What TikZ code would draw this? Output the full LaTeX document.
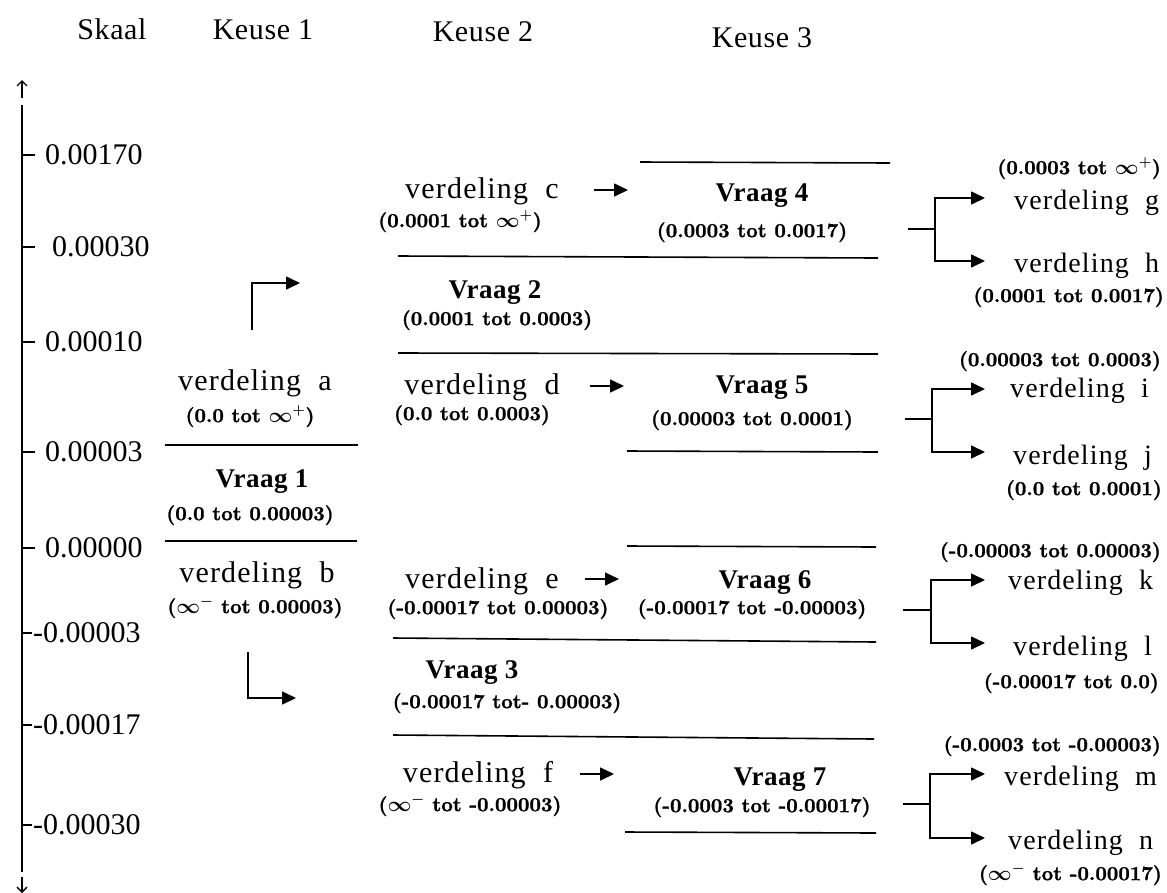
\documentclass[tikz,border=0pt]{standalone}
\usepackage{fontspec}
\usetikzlibrary{arrows.meta}
\newfontfamily\tnr[LetterSpace=4,WordSpace=2]{Liberation Serif}
\newfontfamily\tnrb[LetterSpace=2,WordSpace=1.5]{Liberation Serif}
\newfontfamily\tnrh[LetterSpace=2]{Liberation Serif}
\newfontfamily\tnrplain{Liberation Serif}
\newfontfamily\rngf[FakeBold=1.2]{lmroman10-bold.otf}
\begin{document}
\begin{tikzpicture}[x=1pt,y=-1pt,
  txt/.style={font=\tnr\fontsize{30}{34}\selectfont, inner sep=0pt, anchor=mid},
  vr/.style={font=\tnrb\bfseries\fontsize{27}{30}\selectfont, inner sep=0pt, anchor=mid},
  rng/.style={font=\rngf\boldmath\fontsize{20}{22}\selectfont, inner sep=0pt, anchor=mid},
  hdr/.style={font=\tnrh\fontsize{30}{34}\selectfont, inner sep=0pt, anchor=mid},
  scl/.style={font=\tnrplain\fontsize{30}{34}\selectfont, inner sep=0pt, anchor=west},
  vr3/.style={font=\tnr\fontsize{28}{32}\selectfont, inner sep=0pt, anchor=mid west},
  rr3/.style={rng, anchor=mid east},
  rule/.style={line width=1.6pt},
  tri/.style={line width=1.6pt, -{Triangle[length=14pt,width=13pt]}},
  barb/.style={line width=1.4pt, -{Straight Barb[length=5pt,width=10pt]}},
]
\useasboundingbox (0,0) rectangle (1167,892);

% headers
\node[hdr] (h0) at (112,37) {Skaal};
\node[hdr] (h1) at (263,37) {Keuse 1};
\node[hdr] (h2) at (483,39) {Keuse 2};
\node[hdr] (h3) at (762,45) {Keuse 3};

% scale axis
\coordinate (atop) at (22,105);
\coordinate (abot) at (22,872);
\draw[rule] (atop) -- (abot);
\coordinate (up1) at (22,98); \coordinate (up2) at (22,80);
\draw[barb] (up1) -- (up2);
\coordinate (dn1) at (22,877); \coordinate (dn2) at (22,893);
\draw[barb] (dn1) -- (dn2);

\foreach \y/\lab/\lx/\tx in {155/0.00170/45/35, 247/0.00030/52/35, 342/0.00010/45/35, 452/0.00003/45/35, 548/0.00000/45/35}{
  \coordinate (t\y) at (22,\y);
  \coordinate (te\y) at (\tx,\y);
  \draw[rule] (t\y) -- (te\y);
  \node[scl] (s\y) at (\lx,\y) {\lab};
}
\foreach \y/\lab in {633/-0.00003, 725/-0.00017, 825/-0.00030}{
  \coordinate (t\y) at (22,\y);
  \coordinate (te\y) at (32,\y);
  \draw[rule] (t\y) -- (te\y);
  \node[scl] (s\y) at (33,\y) {\lab};
}

% Keuse 1
\node[txt] (va) at (255,388) {verdeling a};
\node[rng] (ra) at (250,420) {(0.0 tot $\infty^{+}$)};
\coordinate (l1a) at (165,445); \coordinate (l1b) at (358,445);
\draw[rule] (l1a) -- (l1b);
\node[vr] (q1) at (262,485) {Vraag 1};
\node[rng] (r1) at (250,518) {(0.0 tot 0.00003)};
\coordinate (l2a) at (165,541); \coordinate (l2b) at (357,541);
\draw[rule] (l2a) -- (l2b);
\node[txt] (vb) at (257,580) {verdeling b};
\node[rng] (rb) at (255,611) {($\infty^{-}$ tot 0.00003)};

\coordinate (ua) at (252,330); \coordinate (ub) at (252,283); \coordinate (uc) at (300,283);
\draw[tri] (ua) -- (ub) -- (uc);
\coordinate (da) at (248,652); \coordinate (db) at (248,698); \coordinate (dc) at (296,698);
\draw[tri] (da) -- (db) -- (dc);

% Keuse 2
\node[txt] (vc) at (482,196) {verdeling c};
\node[rng] (rc) at (460,225) {(0.0001 tot $\infty^{+}$)};
\coordinate (l3a) at (398,256); \coordinate (l3b) at (878,258);
\draw[rule] (l3a) -- (l3b);
\node[vr] (q2) at (495,296) {Vraag 2};
\node[rng] (r2) at (497,323) {(0.0001 tot 0.0003)};
\coordinate (l4a) at (398,353); \coordinate (l4b) at (878,354);
\draw[rule] (l4a) -- (l4b);
\node[txt] (vd) at (482,392) {verdeling d};
\node[rng] (rd) at (472,418) {(0.0 tot 0.0003)};
\node[txt] (ve) at (482,586) {verdeling e};
\node[rng] (re) at (498,612) {(-0.00017 tot 0.00003)};
\coordinate (l5a) at (393,638); \coordinate (l5b) at (876,642);
\draw[rule] (l5a) -- (l5b);
\node[vr] (q3) at (472,676) {Vraag 3};
\node[rng] (r3) at (507,706) {(-0.00017 tot- 0.00003)};
\coordinate (l6a) at (393,735); \coordinate (l6b) at (874,739);
\draw[rule] (l6a) -- (l6b);
\node[txt] (vf) at (478,780) {verdeling f};
\node[rng] (rf) at (470,809) {($\infty^{-}$ tot -0.00003)};

% Keuse 3
\coordinate (l7a) at (640,162); \coordinate (l7b) at (890,163);
\draw[rule] (l7a) -- (l7b);
\node[vr] (q4) at (762,199) {Vraag 4};
\node[rng] (r4) at (752,235) {(0.0003 tot 0.0017)};
\node[vr] (q5) at (762,391) {Vraag 5};
\node[rng] (r5) at (752,423) {(0.00003 tot 0.0001)};
\coordinate (l8a) at (627,451); \coordinate (l8b) at (878,452);
\draw[rule] (l8a) -- (l8b);
\coordinate (l9a) at (627,546); \coordinate (l9b) at (876,547);
\draw[rule] (l9a) -- (l9b);
\node[vr] (q6) at (765,586) {Vraag 6};
\node[rng] (r6) at (752,612) {(-0.00017 tot -0.00003)};
\node[vr] (q7) at (780,783) {Vraag 7};
\node[rng] (r7) at (762,810) {(-0.0003 tot -0.00017)};
\coordinate (l10a) at (625,832); \coordinate (l10b) at (876,833);
\draw[rule] (l10a) -- (l10b);

% short arrows verdeling -> Vraag
\foreach \n/\xa/\xb/\y in {c/594/628/190, d/590/624/386, e/585/619/579, f/580/614/774}{
  \coordinate (a\n1) at (\xa,\y); \coordinate (a\n2) at (\xb,\y);
  \draw[tri] (a\n1) -- (a\n2);
}

% right groups
\node[rr3] (rg) at (1161,172) {(0.0003 tot $\infty^{+}$)};
\node[vr3] (vg) at (1014,207) {verdeling g};
\node[vr3] (vh) at (1014,270) {verdeling h};
\node[rr3] (rh) at (1164,300) {(0.0001 tot 0.0017)};

\node[rr3] (ri) at (1161,364) {(0.00003 tot 0.0003)};
\node[vr3] (vi) at (1010,395) {verdeling i};
\node[vr3] (vj) at (1013,462) {verdeling j};
\node[rr3] (rj) at (1162,493) {(0.0 tot 0.0001)};

\node[rr3] (rk) at (1161,555) {(-0.00003 tot 0.00003)};
\node[vr3] (vk) at (1008,587) {verdeling k};
\node[vr3] (vl) at (1013,653) {verdeling l};
\node[rr3] (rl) at (1159,686) {(-0.00017 tot 0.0)};

\node[rr3] (rm) at (1161,749) {(-0.0003 tot -0.00003)};
\node[vr3] (vm) at (1004,783) {verdeling m};
\node[vr3] (vn) at (1008,847) {verdeling n};
\node[rr3] (rn) at (1162,878) {($\infty^{-}$ tot -0.00017)};

\foreach \n/\sx/\vx/\ym/\yt/\yb in {gh/908/935/229/198/261, ij/905/932/419/389/452, kl/903/931/610/580/643, mn/903/930/804/774/838}{
  \coordinate (\n s) at (\sx,\ym);
  \coordinate (\n m) at (\vx,\ym);
  \coordinate (\n t) at (\vx,\yt);
  \coordinate (\n b) at (\vx,\yb);
  \coordinate (\n T) at (985,\yt);
  \coordinate (\n B) at (985,\yb);
  \draw[rule] (\n s) -- (\n m);
  \draw[tri] (\n m) -- (\n t) -- (\n T);
  \draw[tri] (\n m) -- (\n b) -- (\n B);
}
\end{tikzpicture}
\end{document}
